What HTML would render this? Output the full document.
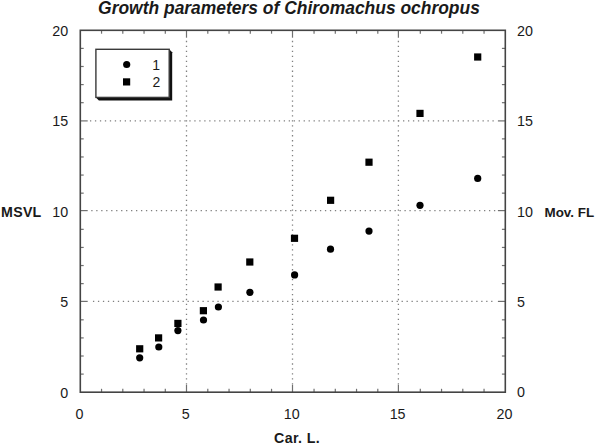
<!DOCTYPE html>
<html><head><meta charset="utf-8"><style>
html,body{margin:0;padding:0;background:#fff;width:596px;height:445px;overflow:hidden;font-family:"Liberation Sans",sans-serif;}
svg{position:absolute;left:0;top:0;display:block}
</style></head><body>
<svg width="596" height="445" viewBox="0 0 596 445">
<rect width="596" height="445" fill="#fff"/>
<path d="M89.95 120.9h1.3M94.92 120.9h1.3M99.89 120.9h1.3M104.86 120.9h1.3M109.83 120.9h1.3M114.80 120.9h1.3M119.76 120.9h1.3M124.73 120.9h1.3M129.70 120.9h1.3M134.67 120.9h1.3M139.64 120.9h1.3M144.61 120.9h1.3M149.58 120.9h1.3M154.55 120.9h1.3M159.52 120.9h1.3M164.49 120.9h1.3M169.46 120.9h1.3M174.43 120.9h1.3M179.39 120.9h1.3M184.36 120.9h1.3M189.33 120.9h1.3M194.30 120.9h1.3M199.27 120.9h1.3M204.24 120.9h1.3M209.21 120.9h1.3M214.18 120.9h1.3M219.15 120.9h1.3M224.12 120.9h1.3M229.09 120.9h1.3M234.05 120.9h1.3M239.02 120.9h1.3M243.99 120.9h1.3M248.96 120.9h1.3M253.93 120.9h1.3M258.90 120.9h1.3M263.87 120.9h1.3M268.84 120.9h1.3M273.81 120.9h1.3M278.78 120.9h1.3M283.75 120.9h1.3M288.72 120.9h1.3M293.68 120.9h1.3M298.65 120.9h1.3M303.62 120.9h1.3M308.59 120.9h1.3M313.56 120.9h1.3M318.53 120.9h1.3M323.50 120.9h1.3M328.47 120.9h1.3M333.44 120.9h1.3M338.41 120.9h1.3M343.38 120.9h1.3M348.35 120.9h1.3M353.31 120.9h1.3M358.28 120.9h1.3M363.25 120.9h1.3M368.22 120.9h1.3M373.19 120.9h1.3M378.16 120.9h1.3M383.13 120.9h1.3M388.10 120.9h1.3M393.07 120.9h1.3M398.04 120.9h1.3M403.01 120.9h1.3M407.97 120.9h1.3M412.94 120.9h1.3M417.91 120.9h1.3M422.88 120.9h1.3M427.85 120.9h1.3M432.82 120.9h1.3M437.79 120.9h1.3M442.76 120.9h1.3M447.73 120.9h1.3M452.70 120.9h1.3M457.67 120.9h1.3M462.64 120.9h1.3M467.60 120.9h1.3M472.57 120.9h1.3M477.54 120.9h1.3M482.51 120.9h1.3M487.48 120.9h1.3M492.45 120.9h1.3" stroke="#808080" stroke-width="1.3" fill="none"/>
<path d="M91.25 210.6h1.3M96.22 210.6h1.3M101.19 210.6h1.3M106.16 210.6h1.3M111.14 210.6h1.3M116.11 210.6h1.3M121.08 210.6h1.3M126.05 210.6h1.3M131.02 210.6h1.3M135.99 210.6h1.3M140.97 210.6h1.3M145.94 210.6h1.3M150.91 210.6h1.3M155.88 210.6h1.3M160.85 210.6h1.3M165.82 210.6h1.3M170.80 210.6h1.3M175.77 210.6h1.3M180.74 210.6h1.3M185.71 210.6h1.3M190.68 210.6h1.3M195.65 210.6h1.3M200.63 210.6h1.3M205.60 210.6h1.3M210.57 210.6h1.3M215.54 210.6h1.3M220.51 210.6h1.3M225.48 210.6h1.3M230.45 210.6h1.3M235.43 210.6h1.3M240.40 210.6h1.3M245.37 210.6h1.3M250.34 210.6h1.3M255.31 210.6h1.3M260.28 210.6h1.3M265.26 210.6h1.3M270.23 210.6h1.3M275.20 210.6h1.3M280.17 210.6h1.3M285.14 210.6h1.3M290.11 210.6h1.3M295.09 210.6h1.3M300.06 210.6h1.3M305.03 210.6h1.3M310.00 210.6h1.3M314.97 210.6h1.3M319.94 210.6h1.3M324.92 210.6h1.3M329.89 210.6h1.3M334.86 210.6h1.3M339.83 210.6h1.3M344.80 210.6h1.3M349.77 210.6h1.3M354.75 210.6h1.3M359.72 210.6h1.3M364.69 210.6h1.3M369.66 210.6h1.3M374.63 210.6h1.3M379.60 210.6h1.3M384.57 210.6h1.3M389.55 210.6h1.3M394.52 210.6h1.3M399.49 210.6h1.3M404.46 210.6h1.3M409.43 210.6h1.3M414.40 210.6h1.3M419.38 210.6h1.3M424.35 210.6h1.3M429.32 210.6h1.3M434.29 210.6h1.3M439.26 210.6h1.3M444.23 210.6h1.3M449.21 210.6h1.3M454.18 210.6h1.3M459.15 210.6h1.3M464.12 210.6h1.3M469.09 210.6h1.3M474.06 210.6h1.3M479.04 210.6h1.3M484.01 210.6h1.3M488.98 210.6h1.3M493.95 210.6h1.3" stroke="#808080" stroke-width="1.3" fill="none"/>
<path d="M92.95 301.4h1.3M97.93 301.4h1.3M102.90 301.4h1.3M107.88 301.4h1.3M112.86 301.4h1.3M117.84 301.4h1.3M122.81 301.4h1.3M127.79 301.4h1.3M132.77 301.4h1.3M137.75 301.4h1.3M142.72 301.4h1.3M147.70 301.4h1.3M152.68 301.4h1.3M157.66 301.4h1.3M162.64 301.4h1.3M167.61 301.4h1.3M172.59 301.4h1.3M177.57 301.4h1.3M182.54 301.4h1.3M187.52 301.4h1.3M192.50 301.4h1.3M197.48 301.4h1.3M202.46 301.4h1.3M207.43 301.4h1.3M212.41 301.4h1.3M217.39 301.4h1.3M222.37 301.4h1.3M227.34 301.4h1.3M232.32 301.4h1.3M237.30 301.4h1.3M242.28 301.4h1.3M247.25 301.4h1.3M252.23 301.4h1.3M257.21 301.4h1.3M262.19 301.4h1.3M267.16 301.4h1.3M272.14 301.4h1.3M277.12 301.4h1.3M282.10 301.4h1.3M287.07 301.4h1.3M292.05 301.4h1.3M297.03 301.4h1.3M302.01 301.4h1.3M306.98 301.4h1.3M311.96 301.4h1.3M316.94 301.4h1.3M321.92 301.4h1.3M326.89 301.4h1.3M331.87 301.4h1.3M336.85 301.4h1.3M341.83 301.4h1.3M346.80 301.4h1.3M351.78 301.4h1.3M356.76 301.4h1.3M361.74 301.4h1.3M366.71 301.4h1.3M371.69 301.4h1.3M376.67 301.4h1.3M381.65 301.4h1.3M386.62 301.4h1.3M391.60 301.4h1.3M396.58 301.4h1.3M401.56 301.4h1.3M406.53 301.4h1.3M411.51 301.4h1.3M416.49 301.4h1.3M421.47 301.4h1.3M426.44 301.4h1.3M431.42 301.4h1.3M436.40 301.4h1.3M441.38 301.4h1.3M446.35 301.4h1.3M451.33 301.4h1.3M456.31 301.4h1.3M461.29 301.4h1.3M466.26 301.4h1.3M471.24 301.4h1.3M476.22 301.4h1.3M481.20 301.4h1.3M486.17 301.4h1.3M491.15 301.4h1.3" stroke="#808080" stroke-width="1.3" fill="none"/>
<path d="M186.5 40.85v1.3M186.5 45.81v1.3M186.5 50.77v1.3M186.5 55.74v1.3M186.5 60.70v1.3M186.5 65.66v1.3M186.5 70.62v1.3M186.5 75.58v1.3M186.5 80.54v1.3M186.5 85.51v1.3M186.5 90.47v1.3M186.5 95.43v1.3M186.5 100.39v1.3M186.5 105.35v1.3M186.5 110.31v1.3M186.5 115.28v1.3M186.5 120.24v1.3M186.5 125.20v1.3M186.5 130.16v1.3M186.5 135.12v1.3M186.5 140.08v1.3M186.5 145.05v1.3M186.5 150.01v1.3M186.5 154.97v1.3M186.5 159.93v1.3M186.5 164.89v1.3M186.5 169.86v1.3M186.5 174.82v1.3M186.5 179.78v1.3M186.5 184.74v1.3M186.5 189.70v1.3M186.5 194.66v1.3M186.5 199.63v1.3M186.5 204.59v1.3M186.5 209.55v1.3M186.5 214.51v1.3M186.5 219.47v1.3M186.5 224.43v1.3M186.5 229.40v1.3M186.5 234.36v1.3M186.5 239.32v1.3M186.5 244.28v1.3M186.5 249.24v1.3M186.5 254.20v1.3M186.5 259.17v1.3M186.5 264.13v1.3M186.5 269.09v1.3M186.5 274.05v1.3M186.5 279.01v1.3M186.5 283.98v1.3M186.5 288.94v1.3M186.5 293.90v1.3M186.5 298.86v1.3M186.5 303.82v1.3M186.5 308.78v1.3M186.5 313.75v1.3M186.5 318.71v1.3M186.5 323.67v1.3M186.5 328.63v1.3M186.5 333.59v1.3M186.5 338.55v1.3M186.5 343.52v1.3M186.5 348.48v1.3M186.5 353.44v1.3M186.5 358.40v1.3M186.5 363.36v1.3M186.5 368.32v1.3M186.5 373.29v1.3M186.5 378.25v1.3M186.5 383.21v1.3" stroke="#808080" stroke-width="1.3" fill="none"/>
<path d="M292.5 40.85v1.3M292.5 45.81v1.3M292.5 50.77v1.3M292.5 55.74v1.3M292.5 60.70v1.3M292.5 65.66v1.3M292.5 70.62v1.3M292.5 75.58v1.3M292.5 80.54v1.3M292.5 85.51v1.3M292.5 90.47v1.3M292.5 95.43v1.3M292.5 100.39v1.3M292.5 105.35v1.3M292.5 110.31v1.3M292.5 115.28v1.3M292.5 120.24v1.3M292.5 125.20v1.3M292.5 130.16v1.3M292.5 135.12v1.3M292.5 140.08v1.3M292.5 145.05v1.3M292.5 150.01v1.3M292.5 154.97v1.3M292.5 159.93v1.3M292.5 164.89v1.3M292.5 169.86v1.3M292.5 174.82v1.3M292.5 179.78v1.3M292.5 184.74v1.3M292.5 189.70v1.3M292.5 194.66v1.3M292.5 199.63v1.3M292.5 204.59v1.3M292.5 209.55v1.3M292.5 214.51v1.3M292.5 219.47v1.3M292.5 224.43v1.3M292.5 229.40v1.3M292.5 234.36v1.3M292.5 239.32v1.3M292.5 244.28v1.3M292.5 249.24v1.3M292.5 254.20v1.3M292.5 259.17v1.3M292.5 264.13v1.3M292.5 269.09v1.3M292.5 274.05v1.3M292.5 279.01v1.3M292.5 283.98v1.3M292.5 288.94v1.3M292.5 293.90v1.3M292.5 298.86v1.3M292.5 303.82v1.3M292.5 308.78v1.3M292.5 313.75v1.3M292.5 318.71v1.3M292.5 323.67v1.3M292.5 328.63v1.3M292.5 333.59v1.3M292.5 338.55v1.3M292.5 343.52v1.3M292.5 348.48v1.3M292.5 353.44v1.3M292.5 358.40v1.3M292.5 363.36v1.3M292.5 368.32v1.3M292.5 373.29v1.3M292.5 378.25v1.3M292.5 383.21v1.3" stroke="#808080" stroke-width="1.3" fill="none"/>
<path d="M398.4 40.85v1.3M398.4 45.81v1.3M398.4 50.77v1.3M398.4 55.74v1.3M398.4 60.70v1.3M398.4 65.66v1.3M398.4 70.62v1.3M398.4 75.58v1.3M398.4 80.54v1.3M398.4 85.51v1.3M398.4 90.47v1.3M398.4 95.43v1.3M398.4 100.39v1.3M398.4 105.35v1.3M398.4 110.31v1.3M398.4 115.28v1.3M398.4 120.24v1.3M398.4 125.20v1.3M398.4 130.16v1.3M398.4 135.12v1.3M398.4 140.08v1.3M398.4 145.05v1.3M398.4 150.01v1.3M398.4 154.97v1.3M398.4 159.93v1.3M398.4 164.89v1.3M398.4 169.86v1.3M398.4 174.82v1.3M398.4 179.78v1.3M398.4 184.74v1.3M398.4 189.70v1.3M398.4 194.66v1.3M398.4 199.63v1.3M398.4 204.59v1.3M398.4 209.55v1.3M398.4 214.51v1.3M398.4 219.47v1.3M398.4 224.43v1.3M398.4 229.40v1.3M398.4 234.36v1.3M398.4 239.32v1.3M398.4 244.28v1.3M398.4 249.24v1.3M398.4 254.20v1.3M398.4 259.17v1.3M398.4 264.13v1.3M398.4 269.09v1.3M398.4 274.05v1.3M398.4 279.01v1.3M398.4 283.98v1.3M398.4 288.94v1.3M398.4 293.90v1.3M398.4 298.86v1.3M398.4 303.82v1.3M398.4 308.78v1.3M398.4 313.75v1.3M398.4 318.71v1.3M398.4 323.67v1.3M398.4 328.63v1.3M398.4 333.59v1.3M398.4 338.55v1.3M398.4 343.52v1.3M398.4 348.48v1.3M398.4 353.44v1.3M398.4 358.40v1.3M398.4 363.36v1.3M398.4 368.32v1.3M398.4 373.29v1.3M398.4 378.25v1.3M398.4 383.21v1.3" stroke="#808080" stroke-width="1.3" fill="none"/>
<line x1="101.55" y1="392.2" x2="101.55" y2="388.8" stroke="#707070" stroke-width="1.2"/>
<line x1="101.55" y1="30.3" x2="101.55" y2="33.7" stroke="#707070" stroke-width="1.2"/>
<line x1="122.8" y1="392.2" x2="122.8" y2="388.8" stroke="#707070" stroke-width="1.2"/>
<line x1="122.8" y1="30.3" x2="122.8" y2="33.7" stroke="#707070" stroke-width="1.2"/>
<line x1="144.05" y1="392.2" x2="144.05" y2="388.8" stroke="#707070" stroke-width="1.2"/>
<line x1="144.05" y1="30.3" x2="144.05" y2="33.7" stroke="#707070" stroke-width="1.2"/>
<line x1="165.3" y1="392.2" x2="165.3" y2="388.8" stroke="#707070" stroke-width="1.2"/>
<line x1="165.3" y1="30.3" x2="165.3" y2="33.7" stroke="#707070" stroke-width="1.2"/>
<line x1="186.5" y1="392.2" x2="186.5" y2="384.8" stroke="#707070" stroke-width="1.2"/>
<line x1="186.5" y1="30.3" x2="186.5" y2="37.7" stroke="#707070" stroke-width="1.2"/>
<line x1="207.8" y1="392.2" x2="207.8" y2="388.8" stroke="#707070" stroke-width="1.2"/>
<line x1="207.8" y1="30.3" x2="207.8" y2="33.7" stroke="#707070" stroke-width="1.2"/>
<line x1="229.05" y1="392.2" x2="229.05" y2="388.8" stroke="#707070" stroke-width="1.2"/>
<line x1="229.05" y1="30.3" x2="229.05" y2="33.7" stroke="#707070" stroke-width="1.2"/>
<line x1="250.3" y1="392.2" x2="250.3" y2="388.8" stroke="#707070" stroke-width="1.2"/>
<line x1="250.3" y1="30.3" x2="250.3" y2="33.7" stroke="#707070" stroke-width="1.2"/>
<line x1="271.55" y1="392.2" x2="271.55" y2="388.8" stroke="#707070" stroke-width="1.2"/>
<line x1="271.55" y1="30.3" x2="271.55" y2="33.7" stroke="#707070" stroke-width="1.2"/>
<line x1="292.5" y1="392.2" x2="292.5" y2="384.8" stroke="#707070" stroke-width="1.2"/>
<line x1="292.5" y1="30.3" x2="292.5" y2="37.7" stroke="#707070" stroke-width="1.2"/>
<line x1="314.05" y1="392.2" x2="314.05" y2="388.8" stroke="#707070" stroke-width="1.2"/>
<line x1="314.05" y1="30.3" x2="314.05" y2="33.7" stroke="#707070" stroke-width="1.2"/>
<line x1="335.3" y1="392.2" x2="335.3" y2="388.8" stroke="#707070" stroke-width="1.2"/>
<line x1="335.3" y1="30.3" x2="335.3" y2="33.7" stroke="#707070" stroke-width="1.2"/>
<line x1="356.55" y1="392.2" x2="356.55" y2="388.8" stroke="#707070" stroke-width="1.2"/>
<line x1="356.55" y1="30.3" x2="356.55" y2="33.7" stroke="#707070" stroke-width="1.2"/>
<line x1="377.8" y1="392.2" x2="377.8" y2="388.8" stroke="#707070" stroke-width="1.2"/>
<line x1="377.8" y1="30.3" x2="377.8" y2="33.7" stroke="#707070" stroke-width="1.2"/>
<line x1="398.4" y1="392.2" x2="398.4" y2="384.8" stroke="#707070" stroke-width="1.2"/>
<line x1="398.4" y1="30.3" x2="398.4" y2="37.7" stroke="#707070" stroke-width="1.2"/>
<line x1="420.3" y1="392.2" x2="420.3" y2="388.8" stroke="#707070" stroke-width="1.2"/>
<line x1="420.3" y1="30.3" x2="420.3" y2="33.7" stroke="#707070" stroke-width="1.2"/>
<line x1="441.55" y1="392.2" x2="441.55" y2="388.8" stroke="#707070" stroke-width="1.2"/>
<line x1="441.55" y1="30.3" x2="441.55" y2="33.7" stroke="#707070" stroke-width="1.2"/>
<line x1="462.8" y1="392.2" x2="462.8" y2="388.8" stroke="#707070" stroke-width="1.2"/>
<line x1="462.8" y1="30.3" x2="462.8" y2="33.7" stroke="#707070" stroke-width="1.2"/>
<line x1="484.05" y1="392.2" x2="484.05" y2="388.8" stroke="#707070" stroke-width="1.2"/>
<line x1="484.05" y1="30.3" x2="484.05" y2="33.7" stroke="#707070" stroke-width="1.2"/>
<line x1="80.3" y1="374.105" x2="83.7" y2="374.105" stroke="#707070" stroke-width="1.2"/>
<line x1="505.3" y1="374.105" x2="501.90000000000003" y2="374.105" stroke="#707070" stroke-width="1.2"/>
<line x1="80.3" y1="356.01" x2="83.7" y2="356.01" stroke="#707070" stroke-width="1.2"/>
<line x1="505.3" y1="356.01" x2="501.90000000000003" y2="356.01" stroke="#707070" stroke-width="1.2"/>
<line x1="80.3" y1="337.915" x2="83.7" y2="337.915" stroke="#707070" stroke-width="1.2"/>
<line x1="505.3" y1="337.915" x2="501.90000000000003" y2="337.915" stroke="#707070" stroke-width="1.2"/>
<line x1="80.3" y1="319.82" x2="83.7" y2="319.82" stroke="#707070" stroke-width="1.2"/>
<line x1="505.3" y1="319.82" x2="501.90000000000003" y2="319.82" stroke="#707070" stroke-width="1.2"/>
<line x1="80.3" y1="301.4" x2="87.7" y2="301.4" stroke="#707070" stroke-width="1.2"/>
<line x1="505.3" y1="301.4" x2="497.90000000000003" y2="301.4" stroke="#707070" stroke-width="1.2"/>
<line x1="80.3" y1="283.63" x2="83.7" y2="283.63" stroke="#707070" stroke-width="1.2"/>
<line x1="505.3" y1="283.63" x2="501.90000000000003" y2="283.63" stroke="#707070" stroke-width="1.2"/>
<line x1="80.3" y1="265.53499999999997" x2="83.7" y2="265.53499999999997" stroke="#707070" stroke-width="1.2"/>
<line x1="505.3" y1="265.53499999999997" x2="501.90000000000003" y2="265.53499999999997" stroke="#707070" stroke-width="1.2"/>
<line x1="80.3" y1="247.44" x2="83.7" y2="247.44" stroke="#707070" stroke-width="1.2"/>
<line x1="505.3" y1="247.44" x2="501.90000000000003" y2="247.44" stroke="#707070" stroke-width="1.2"/>
<line x1="80.3" y1="229.345" x2="83.7" y2="229.345" stroke="#707070" stroke-width="1.2"/>
<line x1="505.3" y1="229.345" x2="501.90000000000003" y2="229.345" stroke="#707070" stroke-width="1.2"/>
<line x1="80.3" y1="210.6" x2="87.7" y2="210.6" stroke="#707070" stroke-width="1.2"/>
<line x1="505.3" y1="210.6" x2="497.90000000000003" y2="210.6" stroke="#707070" stroke-width="1.2"/>
<line x1="80.3" y1="193.155" x2="83.7" y2="193.155" stroke="#707070" stroke-width="1.2"/>
<line x1="505.3" y1="193.155" x2="501.90000000000003" y2="193.155" stroke="#707070" stroke-width="1.2"/>
<line x1="80.3" y1="175.06000000000003" x2="83.7" y2="175.06000000000003" stroke="#707070" stroke-width="1.2"/>
<line x1="505.3" y1="175.06000000000003" x2="501.90000000000003" y2="175.06000000000003" stroke="#707070" stroke-width="1.2"/>
<line x1="80.3" y1="156.965" x2="83.7" y2="156.965" stroke="#707070" stroke-width="1.2"/>
<line x1="505.3" y1="156.965" x2="501.90000000000003" y2="156.965" stroke="#707070" stroke-width="1.2"/>
<line x1="80.3" y1="138.87" x2="83.7" y2="138.87" stroke="#707070" stroke-width="1.2"/>
<line x1="505.3" y1="138.87" x2="501.90000000000003" y2="138.87" stroke="#707070" stroke-width="1.2"/>
<line x1="80.3" y1="120.9" x2="87.7" y2="120.9" stroke="#707070" stroke-width="1.2"/>
<line x1="505.3" y1="120.9" x2="497.90000000000003" y2="120.9" stroke="#707070" stroke-width="1.2"/>
<line x1="80.3" y1="102.68" x2="83.7" y2="102.68" stroke="#707070" stroke-width="1.2"/>
<line x1="505.3" y1="102.68" x2="501.90000000000003" y2="102.68" stroke="#707070" stroke-width="1.2"/>
<line x1="80.3" y1="84.58500000000004" x2="83.7" y2="84.58500000000004" stroke="#707070" stroke-width="1.2"/>
<line x1="505.3" y1="84.58500000000004" x2="501.90000000000003" y2="84.58500000000004" stroke="#707070" stroke-width="1.2"/>
<line x1="80.3" y1="66.49000000000001" x2="83.7" y2="66.49000000000001" stroke="#707070" stroke-width="1.2"/>
<line x1="505.3" y1="66.49000000000001" x2="501.90000000000003" y2="66.49000000000001" stroke="#707070" stroke-width="1.2"/>
<line x1="80.3" y1="48.39500000000004" x2="83.7" y2="48.39500000000004" stroke="#707070" stroke-width="1.2"/>
<line x1="505.3" y1="48.39500000000004" x2="501.90000000000003" y2="48.39500000000004" stroke="#707070" stroke-width="1.2"/>
<rect x="80.3" y="30.3" width="425.0" height="361.9" fill="none" stroke="#444" stroke-width="1.6"/>
<rect x="136.10" y="345.20" width="7.2" height="7.2" fill="#000"/>
<rect x="155.00" y="334.30" width="7.2" height="7.2" fill="#000"/>
<rect x="174.30" y="319.80" width="7.2" height="7.2" fill="#000"/>
<rect x="199.80" y="307.10" width="7.2" height="7.2" fill="#000"/>
<rect x="214.50" y="283.40" width="7.2" height="7.2" fill="#000"/>
<rect x="246.20" y="258.40" width="7.2" height="7.2" fill="#000"/>
<rect x="290.90" y="234.70" width="7.2" height="7.2" fill="#000"/>
<rect x="327.00" y="196.70" width="7.2" height="7.2" fill="#000"/>
<rect x="365.40" y="158.60" width="7.2" height="7.2" fill="#000"/>
<rect x="416.40" y="109.80" width="7.2" height="7.2" fill="#000"/>
<rect x="474.10" y="53.40" width="7.2" height="7.2" fill="#000"/>
<circle cx="139.7" cy="357.8" r="3.6" fill="#000"/>
<circle cx="158.8" cy="347" r="3.6" fill="#000"/>
<circle cx="177.9" cy="330.6" r="3.6" fill="#000"/>
<circle cx="203.5" cy="320" r="3.6" fill="#000"/>
<circle cx="218.4" cy="307" r="3.6" fill="#000"/>
<circle cx="249.9" cy="292.3" r="3.6" fill="#000"/>
<circle cx="294.6" cy="274.9" r="3.6" fill="#000"/>
<circle cx="330.5" cy="249.2" r="3.6" fill="#000"/>
<circle cx="369" cy="231.1" r="3.6" fill="#000"/>
<circle cx="420" cy="205.3" r="3.6" fill="#000"/>
<circle cx="477.7" cy="178.4" r="3.6" fill="#000"/>
<polygon points="169.2,49.3 172.2,52.3 172.2,100.4 98.9,100.4 95.9,97.4" fill="#111"/>
<rect x="95.9" y="49.3" width="73.29999999999998" height="48.10000000000001" fill="#fff" stroke="#3a3a3a" stroke-width="1.4"/>
<circle cx="126.7" cy="64.5" r="3.6" fill="#000"/>
<rect x="123.00" y="78.30" width="7.2" height="7.2" fill="#000"/>
<text x="160.0" y="69.5" font-family="Liberation Sans, sans-serif" font-size="14" font-weight="normal" font-style="normal" text-anchor="end" fill="#1a1a1a">1</text>
<text x="160.2" y="87.4" font-family="Liberation Sans, sans-serif" font-size="14" font-weight="normal" font-style="normal" text-anchor="end" fill="#1a1a1a">2</text>
<text x="68.2" y="35.75" font-family="Liberation Sans, sans-serif" font-size="14.3" font-weight="normal" font-style="normal" text-anchor="end" fill="#1a1a1a">20</text>
<text x="68.2" y="126.44999999999999" font-family="Liberation Sans, sans-serif" font-size="14.3" font-weight="normal" font-style="normal" text-anchor="end" fill="#1a1a1a">15</text>
<text x="68.2" y="216.75" font-family="Liberation Sans, sans-serif" font-size="14.3" font-weight="normal" font-style="normal" text-anchor="end" fill="#1a1a1a">10</text>
<text x="68.2" y="306.75" font-family="Liberation Sans, sans-serif" font-size="14.3" font-weight="normal" font-style="normal" text-anchor="end" fill="#1a1a1a">5</text>
<text x="68.2" y="397.65000000000003" font-family="Liberation Sans, sans-serif" font-size="14.3" font-weight="normal" font-style="normal" text-anchor="end" fill="#1a1a1a">0</text>
<text x="517.1" y="35.5" font-family="Liberation Sans, sans-serif" font-size="14.3" font-weight="normal" font-style="normal" text-anchor="start" fill="#1a1a1a">20</text>
<text x="517.1" y="126.19999999999999" font-family="Liberation Sans, sans-serif" font-size="14.3" font-weight="normal" font-style="normal" text-anchor="start" fill="#1a1a1a">15</text>
<text x="517.1" y="216.5" font-family="Liberation Sans, sans-serif" font-size="14.3" font-weight="normal" font-style="normal" text-anchor="start" fill="#1a1a1a">10</text>
<text x="517.1" y="306.5" font-family="Liberation Sans, sans-serif" font-size="14.3" font-weight="normal" font-style="normal" text-anchor="start" fill="#1a1a1a">5</text>
<text x="517.1" y="397.40000000000003" font-family="Liberation Sans, sans-serif" font-size="14.3" font-weight="normal" font-style="normal" text-anchor="start" fill="#1a1a1a">0</text>
<text x="79.5" y="418.8" font-family="Liberation Sans, sans-serif" font-size="14.3" font-weight="normal" font-style="normal" text-anchor="middle" fill="#1a1a1a">0</text>
<text x="185.7" y="418.8" font-family="Liberation Sans, sans-serif" font-size="14.3" font-weight="normal" font-style="normal" text-anchor="middle" fill="#1a1a1a">5</text>
<text x="291.7" y="418.8" font-family="Liberation Sans, sans-serif" font-size="14.3" font-weight="normal" font-style="normal" text-anchor="middle" fill="#1a1a1a">10</text>
<text x="397.59999999999997" y="418.8" font-family="Liberation Sans, sans-serif" font-size="14.3" font-weight="normal" font-style="normal" text-anchor="middle" fill="#1a1a1a">15</text>
<text x="504.5" y="418.8" font-family="Liberation Sans, sans-serif" font-size="14.3" font-weight="normal" font-style="normal" text-anchor="middle" fill="#1a1a1a">20</text>
<text x="1.1" y="217.2" font-family="Liberation Sans, sans-serif" font-size="14.2" font-weight="bold" font-style="normal" text-anchor="start" fill="#1a1a1a" letter-spacing="0.25">MSVL</text>
<text x="544.5" y="217.1" font-family="Liberation Sans, sans-serif" font-size="13.4" font-weight="bold" font-style="normal" text-anchor="start" fill="#1a1a1a">Mov. FL</text>
<text x="274.1" y="443.2" font-family="Liberation Sans, sans-serif" font-size="14.2" font-weight="bold" font-style="normal" text-anchor="start" fill="#1a1a1a" letter-spacing="0.38">Car. L.</text>
<text x="289.0" y="13.8" font-family="Liberation Sans, sans-serif" font-size="17.45" font-weight="bold" font-style="italic" text-anchor="middle" fill="#1a1a1a">Growth parameters of Chiromachus ochropus</text>
</svg>
</body></html>
